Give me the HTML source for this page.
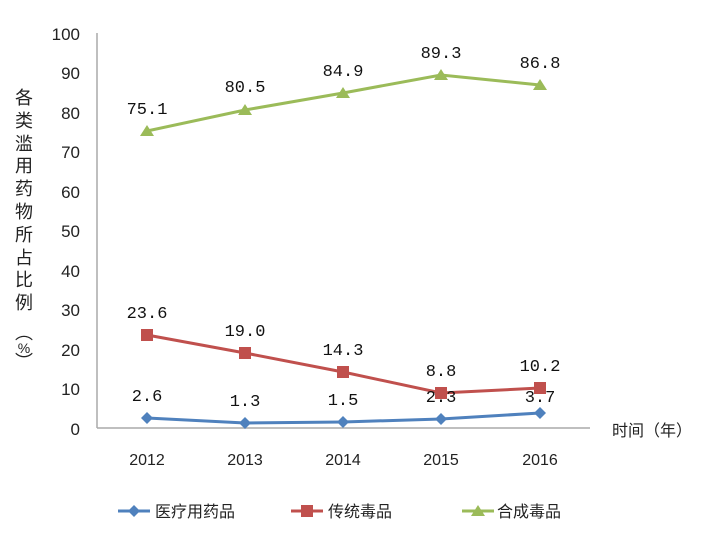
<!DOCTYPE html>
<html><head><meta charset="utf-8"><style>
body{margin:0;background:#fff;}
svg text{font-family:"Liberation Sans","Noto Sans CJK SC",sans-serif;}
.m{font-family:"Liberation Mono","Noto Sans CJK SC",monospace !important;}
</style></head><body>
<svg width="703" height="534" xmlns="http://www.w3.org/2000/svg">
<line x1="97" y1="33" x2="97" y2="428" stroke="#aaa" stroke-width="1.5"/>
<line x1="97" y1="428" x2="590" y2="428" stroke="#aaa" stroke-width="1.5"/>
<g font-size="17" fill="#222" text-anchor="end">
<text x="80" y="40">100</text><text x="80" y="79">90</text><text x="80" y="119">80</text><text x="80" y="158">70</text><text x="80" y="198">60</text><text x="80" y="237">50</text><text x="80" y="277">40</text><text x="80" y="316">30</text><text x="80" y="356">20</text><text x="80" y="395">10</text><text x="80" y="435">0</text>
</g>
<g font-size="18" fill="#222" text-anchor="middle">
<text x="24" y="104">各</text><text x="24" y="127">类</text><text x="24" y="150">滥</text><text x="24" y="172">用</text><text x="24" y="195">药</text><text x="24" y="218">物</text><text x="24" y="241">所</text><text x="24" y="264">占</text><text x="24" y="286">比</text><text x="24" y="309">例</text><text x="24" y="339">︵</text><text x="24" y="353" font-size="14">%</text><text x="24" y="368">︶</text>
</g>
<g font-size="16" fill="#222" text-anchor="middle">
<text x="147" y="465">2012</text><text x="245" y="465">2013</text><text x="343" y="465">2014</text><text x="441" y="465">2015</text><text x="540" y="465">2016</text>
</g>
<text x="612" y="436" font-size="16" fill="#222">时间（年）</text>
<polyline points="147,131 245,110 343,93 441,75 540,85" fill="none" stroke="#9bbb59" stroke-width="3"/>
<g fill="#9bbb59">
<polygon points="147,125 154,136 140,136"/><polygon points="245,104 252,115 238,115"/><polygon points="343,87 350,98 336,98"/><polygon points="441,69 448,80 434,80"/><polygon points="540,79 547,90 533,90"/>
</g>
<polyline points="147,335 245,353 343,372 441,393 540,388" fill="none" stroke="#c0504d" stroke-width="3"/>
<g fill="#c0504d">
<rect x="141" y="329" width="12" height="12"/><rect x="239" y="347" width="12" height="12"/><rect x="337" y="366" width="12" height="12"/><rect x="435" y="387" width="12" height="12"/><rect x="534" y="382" width="12" height="12"/>
</g>
<polyline points="147,418 245,423 343,422 441,419 540,413" fill="none" stroke="#4f81bd" stroke-width="3"/>
<g fill="#4f81bd">
<polygon points="147,412 153,418 147,424 141,418"/><polygon points="245,417 251,423 245,429 239,423"/><polygon points="343,416 349,422 343,428 337,422"/><polygon points="441,413 447,419 441,425 435,419"/><polygon points="540,407 546,413 540,419 534,413"/>
</g>
<g font-size="17" fill="#111" text-anchor="middle">
<text class="m" x="147" y="114">75.1</text><text class="m" x="245" y="92">80.5</text><text class="m" x="343" y="76">84.9</text><text class="m" x="441" y="58">89.3</text><text class="m" x="540" y="68">86.8</text>
<text class="m" x="147" y="318">23.6</text><text class="m" x="245" y="336">19.0</text><text class="m" x="343" y="355">14.3</text><text class="m" x="441" y="376">8.8</text><text class="m" x="540" y="371">10.2</text>
<text class="m" x="147" y="401">2.6</text><text class="m" x="245" y="406">1.3</text><text class="m" x="343" y="405">1.5</text><text class="m" x="441" y="402">2.3</text><text class="m" x="540" y="402">3.7</text>
</g>
<line x1="118" y1="511" x2="150" y2="511" stroke="#4f81bd" stroke-width="3"/>
<polygon points="134,505 140,511 134,517 128,511" fill="#4f81bd"/>
<text x="155" y="517" font-size="16" fill="#222">医疗用药品</text>
<line x1="291" y1="511" x2="323" y2="511" stroke="#c0504d" stroke-width="3"/>
<rect x="301" y="505" width="12" height="12" fill="#c0504d"/>
<text x="328" y="517" font-size="16" fill="#222">传统毒品</text>
<line x1="462" y1="511" x2="494" y2="511" stroke="#9bbb59" stroke-width="3"/>
<polygon points="478,505 485,516 471,516" fill="#9bbb59"/>
<text x="497" y="517" font-size="16" fill="#222">合成毒品</text>
</svg>
</body></html>
